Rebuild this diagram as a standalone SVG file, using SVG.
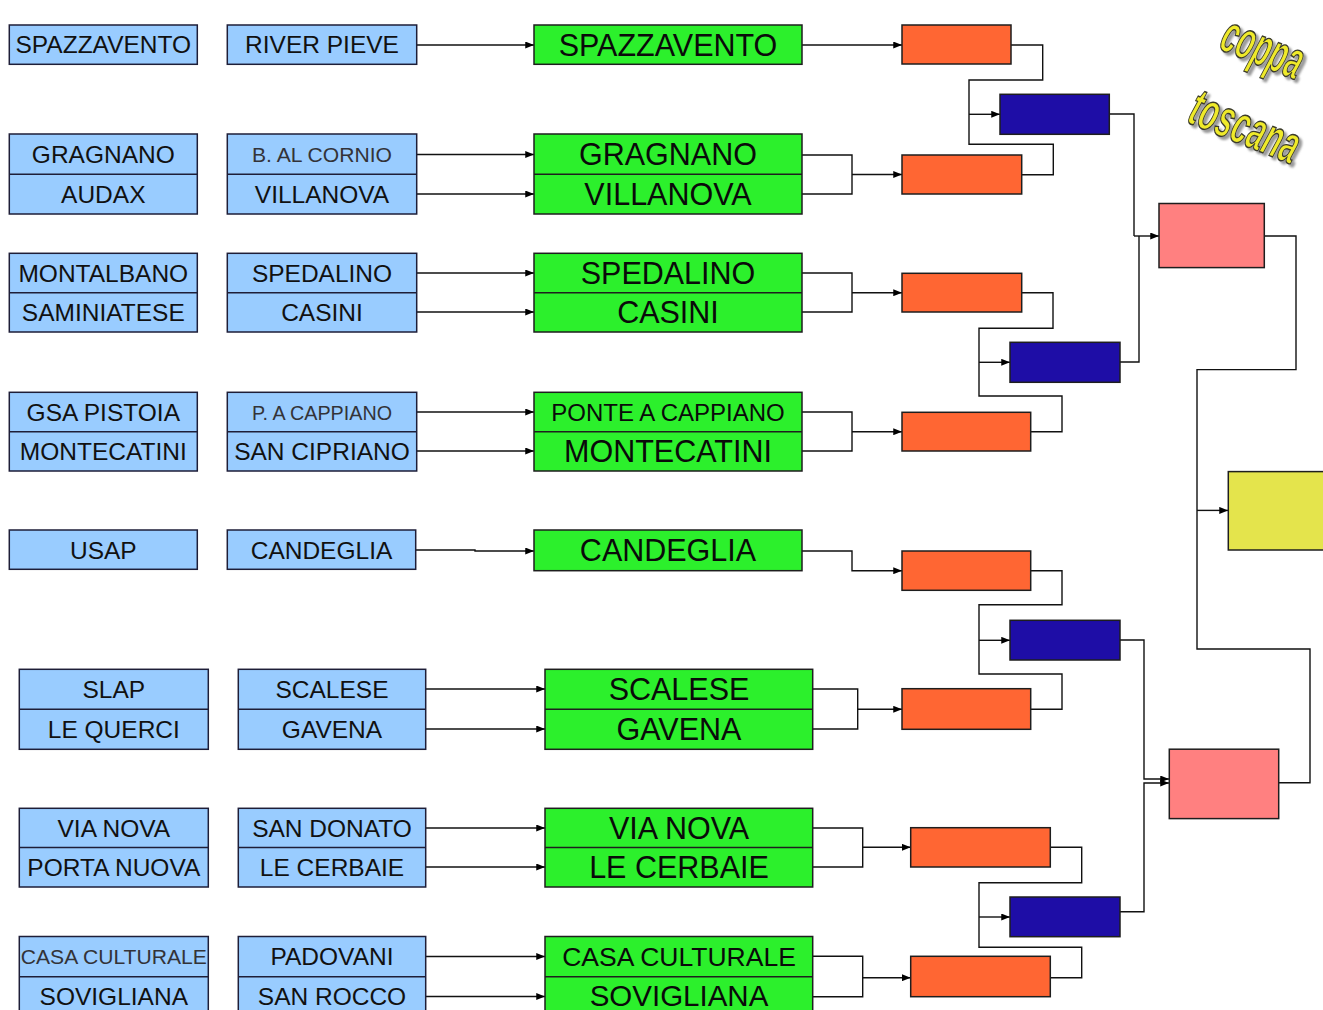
<svg xmlns="http://www.w3.org/2000/svg" width="1323" height="1010" viewBox="0 0 1323 1010">
<defs>
<style>
.lb{fill:#99CCFF;stroke:#1e1e38;stroke-width:1.5}
.gr{fill:#2CF02C;stroke:#1e1e1e;stroke-width:1.5}
.or{fill:#FF6633;stroke:#1e1e1e;stroke-width:1.5}
.bl{fill:#1E0DA6;stroke:#1e1e1e;stroke-width:1.5}
.pk{fill:#FF8080;stroke:#1e1e1e;stroke-width:1.5}
.ye{fill:#E4E44C;stroke:#1e1e1e;stroke-width:1.5}
.t{font-family:'Liberation Sans',Arial,sans-serif;fill:#111;text-anchor:middle;font-size:24.5px}
.tl{font-family:'Liberation Sans',Arial,sans-serif;fill:#333338;text-anchor:middle;font-size:21px}
.tg{font-family:'Liberation Sans',Arial,sans-serif;fill:#0a0a0a;text-anchor:middle;font-size:30.5px}
.c{fill:none;stroke:#111;stroke-width:1.4}
.logo{font-family:'Liberation Sans',Arial,sans-serif;font-weight:bold;font-style:italic;font-size:29px;text-anchor:middle;fill:#EFEA2A;stroke:#3a3a2a;stroke-width:0.8}
</style>
<filter id="sh" x="-20%" y="-20%" width="140%" height="160%"><feDropShadow dx="3" dy="3" stdDeviation="1" flood-color="#808080" flood-opacity="0.8"/></filter>
<marker id="ah" viewBox="0 0 10 8" refX="10" refY="4" markerWidth="9" markerHeight="7" markerUnits="userSpaceOnUse" orient="auto"><path d="M0,0 L10,4 L0,8 z" fill="#000"/></marker>
</defs>
<rect width="1323" height="1010" fill="#fff"/>

<g id="connectors" class="c">
<path d="M416.7,45 H534" marker-end="url(#ah)"/>
<path d="M416.7,154.5 H534" marker-end="url(#ah)"/>
<path d="M416.7,194 H534" marker-end="url(#ah)"/>
<path d="M416.7,273 H534" marker-end="url(#ah)"/>
<path d="M416.7,312 H534" marker-end="url(#ah)"/>
<path d="M416.7,412 H534" marker-end="url(#ah)"/>
<path d="M416.7,451 H534" marker-end="url(#ah)"/>
<path d="M415.7,550 H475 V551 H534" marker-end="url(#ah)"/>
<path d="M425.7,689 H545" marker-end="url(#ah)"/>
<path d="M425.7,729 H545" marker-end="url(#ah)"/>
<path d="M425.7,828 H545" marker-end="url(#ah)"/>
<path d="M425.7,867 H545" marker-end="url(#ah)"/>
<path d="M425.7,956.5 H545" marker-end="url(#ah)"/>
<path d="M425.7,996.5 H545" marker-end="url(#ah)"/>
<path d="M802,45 H902" marker-end="url(#ah)"/>
<path d="M802,155 H852 V194 H802"/>
<path d="M852,174.5 H902" marker-end="url(#ah)"/>
<path d="M802,273 H852 V312 H802"/>
<path d="M852,292.7 H902" marker-end="url(#ah)"/>
<path d="M802,412 H852 V451 H802"/>
<path d="M852,431.7 H902" marker-end="url(#ah)"/>
<path d="M802,551 H852 V570.7 H902" marker-end="url(#ah)"/>
<path d="M812.7,689 H857.7 V729 H812.7"/>
<path d="M857.7,709.3 H902" marker-end="url(#ah)"/>
<path d="M812.7,828 H862.7 V867 H812.7"/>
<path d="M862.7,847.3 H910.7" marker-end="url(#ah)"/>
<path d="M812.7,956.3 H862.7 V996.7 H812.7"/>
<path d="M862.7,977.7 H910.7" marker-end="url(#ah)"/>
<path d="M1011,45 H1042.7 V80 H969 V144.3 H1053.3 V174.7 H1021.7"/>
<path d="M969,114.3 H1000" marker-end="url(#ah)"/>
<path d="M1021.7,292.7 H1053 V328.3 H979 V396 H1062 V431.7 H1030.7"/>
<path d="M979,362.3 H1010" marker-end="url(#ah)"/>
<path d="M1030.7,570.7 H1062 V604.7 H979 V674 H1062 V709.3 H1030.7"/>
<path d="M979,640.3 H1010" marker-end="url(#ah)"/>
<path d="M1050.3,847.3 H1081.7 V882.7 H979 V947.3 H1081.7 V977.7 H1050.3"/>
<path d="M979,917 H1010" marker-end="url(#ah)"/>
<path d="M1109,114 H1134 V236"/>
<path d="M1120,362 H1139 V236"/>
<path d="M1134,236 H1159" marker-end="url(#ah)"/>
<path d="M1120,640 H1144 V779 H1169" marker-end="url(#ah)"/>
<path d="M1120,911.7 H1144 V783 H1169" marker-end="url(#ah)"/>
<path d="M1264,236 H1296 V369.6 H1197 V649 H1310 V782.7 H1279"/>
<path d="M1197,510.4 H1228" marker-end="url(#ah)"/>
</g>

<g id="n-spazzavento-1"><rect class="lb" x="9.3" y="25" width="188" height="39.3"/><text class="t" x="103.3" y="53.3">SPAZZAVENTO</text></g>
<g id="n-river-pieve"><rect class="lb" x="227.3" y="25" width="189.4" height="39.3"/><text class="t" x="322" y="53.3">RIVER PIEVE</text></g>
<g id="n-g-spazzavento"><rect class="gr" x="534" y="25" width="268" height="39.3"/><text class="tg" x="668" y="55.5">SPAZZAVENTO</text></g>

<g id="n-gragnano-audax"><rect class="lb" x="9.3" y="134" width="188" height="80"/><line x1="9.3" y1="174.3" x2="197.3" y2="174.3" stroke="#1e1e38" stroke-width="1.5"/><text class="t" x="103.3" y="163">GRAGNANO</text><text class="t" x="103.3" y="203">AUDAX</text></g>
<g id="n-cornio-villanova"><rect class="lb" x="227.3" y="134" width="189.4" height="80"/><line x1="227.3" y1="174.3" x2="416.7" y2="174.3" stroke="#1e1e38" stroke-width="1.5"/><text class="tl" x="322" y="162" textLength="140" lengthAdjust="spacingAndGlyphs">B. AL CORNIO</text><text class="t" x="322" y="203">VILLANOVA</text></g>
<g id="n-g-gragnano-villanova"><rect class="gr" x="534" y="134" width="268" height="80"/><line x1="534" y1="174.3" x2="802" y2="174.3" stroke="#1e1e1e" stroke-width="1.5"/><text class="tg" x="668" y="165">GRAGNANO</text><text class="tg" x="668" y="205">VILLANOVA</text></g>

<g id="n-montalbano-saminiatese"><rect class="lb" x="9.3" y="253.3" width="188" height="78.7"/><line x1="9.3" y1="292.7" x2="197.3" y2="292.7" stroke="#1e1e38" stroke-width="1.5"/><text class="t" x="103.3" y="281.8">MONTALBANO</text><text class="t" x="103.3" y="321.1">SAMINIATESE</text></g>
<g id="n-spedalino-casini"><rect class="lb" x="227.3" y="253.3" width="189.4" height="78.7"/><line x1="227.3" y1="292.7" x2="416.7" y2="292.7" stroke="#1e1e38" stroke-width="1.5"/><text class="t" x="322" y="281.8">SPEDALINO</text><text class="t" x="322" y="321.1">CASINI</text></g>
<g id="n-g-spedalino-casini"><rect class="gr" x="534" y="253.3" width="268" height="78.7"/><line x1="534" y1="292.7" x2="802" y2="292.7" stroke="#1e1e1e" stroke-width="1.5"/><text class="tg" x="668" y="284">SPEDALINO</text><text class="tg" x="668" y="323.3">CASINI</text></g>

<g id="n-gsa-montecatini"><rect class="lb" x="9.3" y="392.3" width="188" height="78.7"/><line x1="9.3" y1="431.7" x2="197.3" y2="431.7" stroke="#1e1e38" stroke-width="1.5"/><text class="t" x="103.3" y="420.8">GSA PISTOIA</text><text class="t" x="103.3" y="460.1">MONTECATINI</text></g>
<g id="n-cappiano-cipriano"><rect class="lb" x="227.3" y="392.3" width="189.4" height="78.7"/><line x1="227.3" y1="431.7" x2="416.7" y2="431.7" stroke="#1e1e38" stroke-width="1.5"/><text class="tl" x="322" y="419.5" textLength="140" lengthAdjust="spacingAndGlyphs">P. A CAPPIANO</text><text class="t" x="322" y="460.1">SAN CIPRIANO</text></g>
<g id="n-g-cappiano-montecatini"><rect class="gr" x="534" y="392.3" width="268" height="78.7"/><line x1="534" y1="431.7" x2="802" y2="431.7" stroke="#1e1e1e" stroke-width="1.5"/><text class="tg" x="668" y="420.6" style="font-size:24px">PONTE A CAPPIANO</text><text class="tg" x="668" y="462.3">MONTECATINI</text></g>

<g id="n-usap"><rect class="lb" x="9.3" y="530" width="188" height="39.3"/><text class="t" x="103.3" y="558.5">USAP</text></g>
<g id="n-candeglia"><rect class="lb" x="227.3" y="530" width="188.4" height="39.3"/><text class="t" x="321.5" y="558.5">CANDEGLIA</text></g>
<g id="n-g-candeglia"><rect class="gr" x="534" y="530" width="268" height="40.7"/><text class="tg" x="668" y="561">CANDEGLIA</text></g>

<g id="n-slap-querci"><rect class="lb" x="19.3" y="669.3" width="189" height="80"/><line x1="19.3" y1="709.3" x2="208.3" y2="709.3" stroke="#1e1e38" stroke-width="1.5"/><text class="t" x="113.8" y="698">SLAP</text><text class="t" x="113.8" y="738">LE QUERCI</text></g>
<g id="n-scalese-gavena"><rect class="lb" x="238.3" y="669.3" width="187.4" height="80"/><line x1="238.3" y1="709.3" x2="425.7" y2="709.3" stroke="#1e1e38" stroke-width="1.5"/><text class="t" x="332" y="698">SCALESE</text><text class="t" x="332" y="738">GAVENA</text></g>
<g id="n-g-scalese-gavena"><rect class="gr" x="545" y="669.3" width="267.7" height="80"/><line x1="545" y1="709.3" x2="812.7" y2="709.3" stroke="#1e1e1e" stroke-width="1.5"/><text class="tg" x="679" y="700">SCALESE</text><text class="tg" x="679" y="740">GAVENA</text></g>

<g id="n-vianova-portanuova"><rect class="lb" x="19.3" y="808.3" width="189" height="78.7"/><line x1="19.3" y1="847.5" x2="208.3" y2="847.5" stroke="#1e1e38" stroke-width="1.5"/><text class="t" x="113.8" y="836.8">VIA NOVA</text><text class="t" x="113.8" y="876">PORTA NUOVA</text></g>
<g id="n-donato-cerbaie"><rect class="lb" x="238.3" y="808.3" width="187.4" height="78.7"/><line x1="238.3" y1="847.5" x2="425.7" y2="847.5" stroke="#1e1e38" stroke-width="1.5"/><text class="t" x="332" y="836.8">SAN DONATO</text><text class="t" x="332" y="876">LE CERBAIE</text></g>
<g id="n-g-vianova-cerbaie"><rect class="gr" x="545" y="808.3" width="267.7" height="78.7"/><line x1="545" y1="847.5" x2="812.7" y2="847.5" stroke="#1e1e1e" stroke-width="1.5"/><text class="tg" x="679" y="839">VIA NOVA</text><text class="tg" x="679" y="878.2">LE CERBAIE</text></g>

<g id="n-casa-sovigliana"><rect class="lb" x="19.3" y="936.5" width="189" height="80"/><line x1="19.3" y1="976.7" x2="208.3" y2="976.7" stroke="#1e1e38" stroke-width="1.5"/><text class="tl" x="113.8" y="964.2" textLength="186" lengthAdjust="spacingAndGlyphs">CASA CULTURALE</text><text class="t" x="113.8" y="1004.5">SOVIGLIANA</text></g>
<g id="n-padovani-rocco"><rect class="lb" x="238.3" y="936.5" width="187.4" height="80"/><line x1="238.3" y1="976.7" x2="425.7" y2="976.7" stroke="#1e1e38" stroke-width="1.5"/><text class="t" x="332" y="965.3">PADOVANI</text><text class="t" x="332" y="1004.5">SAN ROCCO</text></g>
<g id="n-g-casa-sovigliana"><rect class="gr" x="545" y="936.5" width="267.7" height="80"/><line x1="545" y1="976.7" x2="812.7" y2="976.7" stroke="#1e1e1e" stroke-width="1.5"/><text class="tg" x="679" y="966" style="font-size:26.5px">CASA CULTURALE</text><text class="tg" x="679" y="1005.5" style="font-size:29.5px">SOVIGLIANA</text></g>

<g id="o1"><rect class="or" x="902" y="25" width="109" height="39"/></g>
<g id="o2"><rect class="or" x="902" y="155" width="119.7" height="39"/></g>
<g id="o3"><rect class="or" x="902" y="273.3" width="119.7" height="38.7"/></g>
<g id="o4"><rect class="or" x="902" y="412.3" width="128.7" height="38.7"/></g>
<g id="o5"><rect class="or" x="902" y="551" width="128.7" height="39.3"/></g>
<g id="o6"><rect class="or" x="902" y="688.7" width="128.7" height="40.6"/></g>
<g id="o7"><rect class="or" x="910.7" y="827.7" width="139.6" height="39.3"/></g>
<g id="o8"><rect class="or" x="910.7" y="956.3" width="139.6" height="40.4"/></g>

<g id="b1"><rect class="bl" x="1000" y="94.3" width="109.3" height="40"/></g>
<g id="b2"><rect class="bl" x="1010" y="342.3" width="110" height="40"/></g>
<g id="b3"><rect class="bl" x="1010" y="620.3" width="110" height="39.7"/></g>
<g id="b4"><rect class="bl" x="1010" y="897" width="110" height="39.7"/></g>

<g id="p1"><rect class="pk" x="1159" y="203.5" width="105.3" height="64.1"/></g>
<g id="p2"><rect class="pk" x="1169.3" y="749.2" width="109.4" height="69.4"/></g>

<g id="final"><rect class="ye" x="1228.3" y="471.6" width="100" height="78.4"/></g>

<g id="logo" class="logo" filter="url(#sh)">
<text transform="translate(1261,53) rotate(22) scale(1,1.85)" y="6.5" textLength="84" lengthAdjust="spacingAndGlyphs">coppa</text>
<text transform="translate(1243,132) rotate(22) scale(1,1.85)" y="6.5" textLength="114" lengthAdjust="spacingAndGlyphs">toscana</text>
</g>
</svg>
